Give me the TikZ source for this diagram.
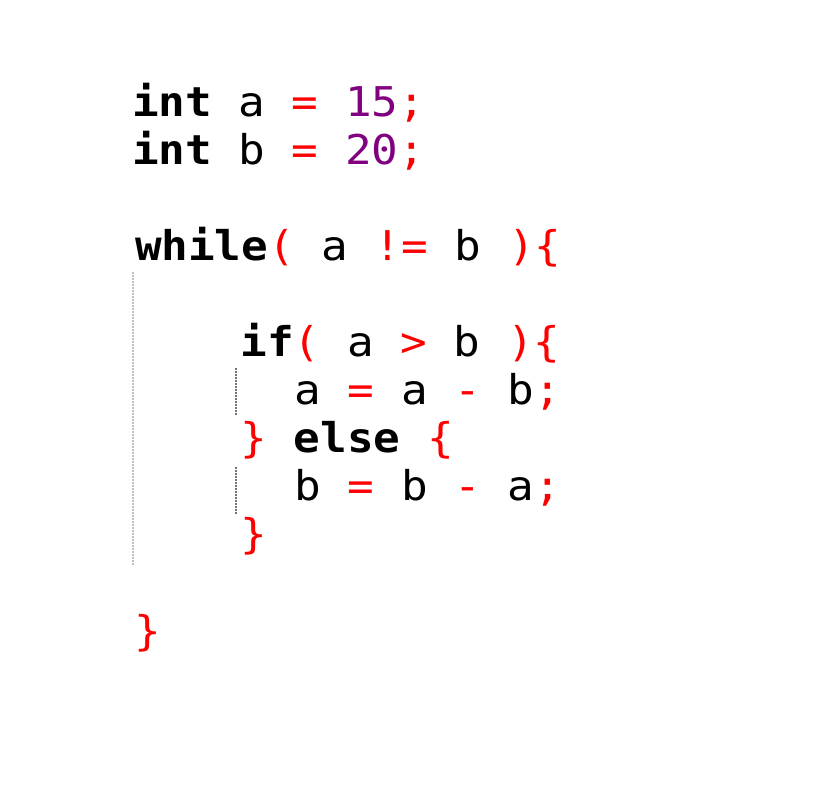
\documentclass[tikz,border=0pt]{standalone}
\usepackage{fontspec}
\newfontfamily\codefont[FakeStretch=1.08]{DejaVu Sans Mono}
\definecolor{op}{RGB}{255,0,0}
\definecolor{num}{RGB}{128,0,128}
\newcommand{\kw}[1]{\textbf{#1}}
\newcommand{\po}[1]{\textcolor{op}{#1}}
\newcommand{\nm}[1]{\textcolor{num}{#1}}
\tikzset{
  codeline/.style={anchor=base west, inner sep=0pt, outer sep=0pt,
    font=\codefont\fontsize{41}{48}\selectfont, text=black},
  guideA/.style={draw=black!25, line width=1.3pt, dash pattern=on 1.5pt off 1.5pt},
  guideB/.style={draw=black!55, line width=1.3pt, dash pattern=on 1.5pt off 1.5pt}
}
\begin{document}
\begin{tikzpicture}[x=1pt,y=-1pt]
\useasboundingbox[fill=white] (0,0) rectangle (816,800);
\def\xo{132}
\def\cw{26.9}
\node[codeline] (l1) at (\xo,116.7) {\kw{int} a \po{=} \nm{15}\po{;}};
\node[codeline] (l2) at (\xo,164.7) {\kw{int} b \po{=} \nm{20}\po{;}};
\node[codeline] (l4) at (\xo+3,260.7) {\kw{while}\po{(} a \po{!=} b \po{)\{}};
\node[codeline] (l6) at (\xo+4*\cw+1,356.7) {\kw{if}\po{(} a \po{>} b \po{)\{}};
\node[codeline] (l7) at (\xo+6*\cw+1,404.7) {a \po{=} a \po{-} b\po{;}};
\node[codeline] (l8) at (\xo+4*\cw+1,452.7) {\po{\}} \kw{else} \po{\{}};
\node[codeline] (l9) at (\xo+6*\cw+1,500.7) {b \po{=} b \po{-} a\po{;}};
\node[codeline] (l10) at (\xo+4*\cw+1,548.7) {\po{\}}};
\node[codeline] (l12) at (\xo+2,645) {\po{\}}};
\coordinate (gA1) at (133,272);
\coordinate (gA2) at (133,565);
\draw[guideA] (gA1) -- (gA2);
\coordinate (gB1) at (236,368);
\coordinate (gB2) at (236,416);
\coordinate (gB3) at (236,467);
\coordinate (gB4) at (236,515);
\draw[guideB] (gB1) -- (gB2);
\draw[guideB] (gB3) -- (gB4);
\end{tikzpicture}
\end{document}
